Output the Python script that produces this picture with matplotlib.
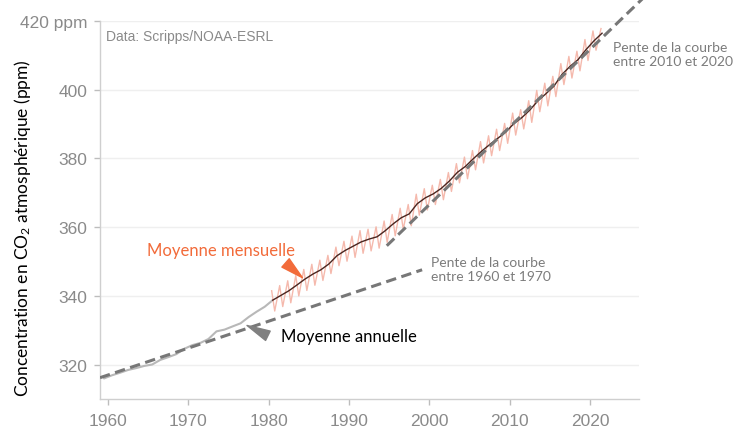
import matplotlib
matplotlib.use("Agg")
import matplotlib.pyplot as plt
import numpy as np

plt.rcParams["mathtext.fontset"] = "custom"
plt.rcParams["mathtext.rm"] = "Lato"
plt.rcParams["mathtext.it"] = "Lato:italic"

# Mauna Loa annual mean CO2 (ppm)
years = list(range(1959, 2022))
annual_ppm = [
    315.98, 316.91, 317.64, 318.45, 318.99, 319.62, 320.04, 321.37, 322.18, 323.05,
    324.62, 325.68, 326.32, 327.46, 329.68, 330.19, 331.12, 332.03, 333.84, 335.41,
    336.84, 338.76, 340.12, 341.48, 343.15, 344.87, 346.35, 347.61, 349.31, 351.69,
    353.20, 354.45, 355.70, 356.54, 357.21, 358.96, 360.97, 362.74, 363.88, 366.84,
    368.54, 369.71, 371.32, 373.45, 375.98, 377.70, 379.98, 382.09, 384.02, 385.83,
    387.64, 390.10, 391.85, 394.06, 396.74, 398.81, 401.01, 404.41, 406.76, 408.72,
    411.66, 414.24, 416.45,
]

# Monthly record from 1980: seasonal maximum (May) and minimum (autumn) per year
monthly_years = list(range(1980, 2022))
monthly_max = [
    341.5, 343.0, 344.4, 345.9, 347.7, 349.2, 350.4, 351.8, 354.2, 355.9,
    357.4, 359.0, 359.4, 360.1, 361.8, 363.7, 365.5, 366.6, 369.6, 371.2,
    372.2, 373.9, 375.9, 378.5, 380.4, 382.3, 384.9, 386.6, 388.5, 390.2,
    393.2, 394.2, 396.8, 399.8, 401.9, 403.9, 407.6, 409.7, 411.2, 414.6,
    417.1, 417.8,
]
monthly_min = [
    335.6, 336.9, 338.0, 340.0, 341.6, 343.1, 344.5, 346.5, 348.8, 350.1,
    351.2, 352.4, 353.1, 353.9, 355.6, 357.5, 359.4, 360.4, 363.5, 365.0,
    366.6, 368.0, 370.4, 372.9, 374.1, 376.7, 378.7, 380.8, 382.3, 384.4,
    386.8, 388.6, 390.5, 393.6, 395.3, 398.0, 401.5, 403.4, 405.5, 408.5,
    411.5,
]

# Trend lines (start / end points)
slope_6070_x = [1959.0, 1999.1]
slope_6070_y = [316.2, 347.6]
slope_1020_x = [1994.7, 2026.5]
slope_1020_y = [354.6, 426.4]

x_ticks = [1960, 1970, 1980, 1990, 2000, 2010, 2020]
y_ticks = [320, 340, 360, 380, 400, 420]
y_ticklabels = ["320", "340", "360", "380", "400", "420 ppm"]

GRAY_TXT = "#8a8a8a"
ORANGE = "#f26b3a"
DASH = "#777777"

fig = plt.figure(figsize=(7.44, 4.35), dpi=100)
ax = fig.add_axes([100 / 744, 1 - 400 / 435, 539 / 744, 378 / 435])
ax.set_xlim(1959, 2026.1)
ax.set_ylim(310, 420)

# Grid and axes styling
ax.set_axisbelow(True)
ax.yaxis.grid(True, color="#efefef", lw=1.0)
for s in ("top", "right"):
    ax.spines[s].set_visible(False)
for s in ("left", "bottom"):
    ax.spines[s].set_color("#cfcfcf")
    ax.spines[s].set_linewidth(1.0)
ax.set_xticks(x_ticks)
ax.set_yticks(y_ticks)
ax.set_yticklabels(y_ticklabels)
ax.tick_params(axis="both", colors="#bdbdbd", length=4, width=1,
               labelcolor=GRAY_TXT, labelsize=12.5)
ax.tick_params(axis="y", pad=5)
ax.tick_params(axis="x", pad=6)
for lab in ax.get_xticklabels() + ax.get_yticklabels():
    lab.set_fontfamily("Liberation Sans")

yrs = np.array(years, dtype=float)
ann = np.array(annual_ppm)

# Annual mean before 1980 (gray)
early = yrs <= 1980
ax.plot(yrs[early] + 0.5, ann[early], color="#b8b8b8", lw=1.5, zorder=2,
        solid_capstyle="round")

# Monthly zigzag from 1980
mx, my = [], []
for i, yr in enumerate(monthly_years):
    mx.append(yr + 0.37)
    my.append(monthly_max[i])
    if i < len(monthly_min):
        mx.append(yr + 0.75)
        my.append(monthly_min[i])
ax.plot(mx, my, color="#f4b2a4", lw=1.0, alpha=0.9, zorder=2)

# Annual mean from 1980 (dark)
late = yrs >= 1980
ax.plot(yrs[late] + 0.5, ann[late], color="#4a2620", lw=1.0, zorder=3)

# Dashed slope lines
ax.plot(slope_6070_x, slope_6070_y, color=DASH, lw=2.2, ls=(0, (3.4, 1.8)),
        zorder=4)
ax.plot(slope_1020_x, slope_1020_y, color=DASH, lw=2.2, ls=(0, (3.4, 1.8)),
        zorder=4, clip_on=False)

# Text annotations
ax.text(1959.75, 415.6, "Data: Scripps/NOAA-ESRL", fontsize=10,
        family="Liberation Sans", color=GRAY_TXT, va="center", ha="left")
ax.text(2022.9, 410.4, "Pente de la courbe\nentre 2010 et 2020", fontsize=10,
        family="Lato", color="#7c7c7c", va="center", ha="left",
        linespacing=1.25)
ax.text(2000.2, 347.9, "Pente de la courbe\nentre 1960 et 1970", fontsize=10,
        family="Lato", color="#7c7c7c", va="center", ha="left",
        linespacing=1.25)
ax.text(1974.1, 353.4, "Moyenne mensuelle", fontsize=12, family="Lato",
        color=ORANGE, va="center", ha="center", zorder=1,
        bbox=dict(boxstyle="square,pad=0.6", fc="white", ec="none"))
ax.text(1990.0, 328.4, "Moyenne annuelle", fontsize=12, family="Lato",
        color="black", va="center", ha="center", zorder=1,
        bbox=dict(boxstyle="square,pad=0.6", fc="white", ec="none"))

# Pointer wedges
ax.annotate("", xy=(1984.2, 345.3), xytext=(1982.1, 349.6),
            arrowprops=dict(arrowstyle="wedge,tail_width=0.8", color=ORANGE,
                            shrinkA=0, shrinkB=0, mutation_scale=10),
            zorder=5)
ax.annotate("", xy=(1977.3, 331.4), xytext=(1979.9, 328.4),
            arrowprops=dict(arrowstyle="wedge,tail_width=0.75", color="#808080",
                            shrinkA=0, shrinkB=0, mutation_scale=10),
            zorder=5)

fig.text(23 / 744, 1 - 228 / 435,
         "Concentration en CO$_2$ atmosphérique (ppm)",
         rotation=90, fontsize=12.5, family="Lato", color="black",
         va="center", ha="center")

fig.savefig("out.png", dpi=100)
